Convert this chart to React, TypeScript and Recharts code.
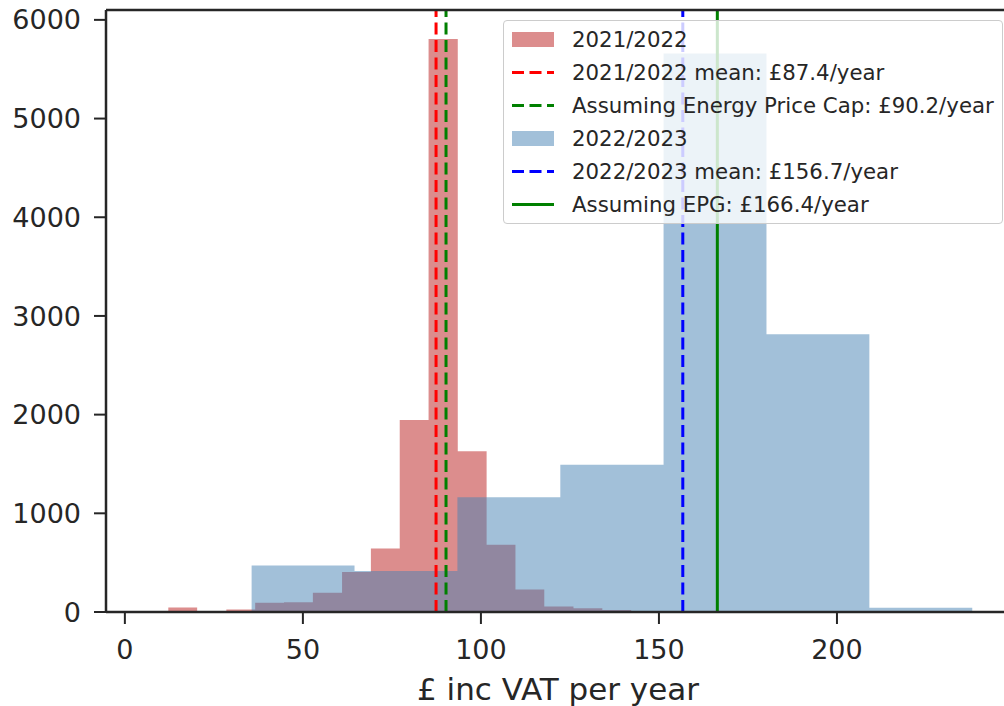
import { ComposedChart, Area, XAxis, YAxis, ReferenceLine, Legend } from 'recharts';

// histogram bin edges and counts per tariff year
const RED_EDGES = [12.2, 20.3, 28.5, 36.6, 44.7, 52.8, 61.0, 69.1, 77.2, 85.3, 93.5, 101.6, 109.7, 117.8, 126.0, 134.1, 142.2];
const RED_COUNTS = [45, 0, 25, 94, 98, 196, 405, 644, 1945, 5806, 1630, 681, 229, 57, 37, 20];
const BLUE_EDGES = [35.6, 64.5, 93.4, 122.3, 151.3, 180.2, 209.1, 238.0];
const BLUE_COUNTS = [472, 415, 1164, 1491, 5658, 2814, 42];

// mean markers (£/year)
const MEAN_2122 = 87.4;
const CAP_2122 = 90.2;
const MEAN_2223 = 156.7;
const EPG_2223 = 166.4;

const X_TICKS = [0, 50, 100, 150, 200];
const Y_TICKS = [0, 1000, 2000, 3000, 4000, 5000, 6000];
const X_DOMAIN = [-5.3, 248.6];
const Y_MAX = 6100;

const INK = '#262626';
const FONT = '"DejaVu Sans", sans-serif';
const RED_FILL = 'indianred';
const BLUE_FILL = 'steelblue';
const DASH = '12 5.5';

// value of a step histogram at x (null outside its range, 0 at the closing edge)
function stepValue(edges: number[], counts: number[], x: number) {
  const last = edges.length - 1;
  if (x < edges[0] || x > edges[last]) return null;
  if (x === edges[last]) return 0;
  let i = 0;
  while (x >= edges[i + 1]) i++;
  return counts[i];
}

const xs = Array.from(new Set([...RED_EDGES, ...BLUE_EDGES])).sort((a, b) => a - b);
const table = xs.map((x) => ({
  x,
  y2122: stepValue(RED_EDGES, RED_COUNTS, x),
  y2223: stepValue(BLUE_EDGES, BLUE_COUNTS, x),
}));

type Entry = { label: string; kind: 'patch' | 'line'; color: string; opacity?: number; dashed?: boolean };

const ENTRIES: Entry[] = [
  { label: '2021/2022', kind: 'patch', color: RED_FILL, opacity: 0.7 },
  { label: `2021/2022 mean: £${MEAN_2122}/year`, kind: 'line', color: 'red', dashed: true },
  { label: `Assuming Energy Price Cap: £${CAP_2122}/year`, kind: 'line', color: 'green', dashed: true },
  { label: '2022/2023', kind: 'patch', color: BLUE_FILL, opacity: 0.5 },
  { label: `2022/2023 mean: £${MEAN_2223}/year`, kind: 'line', color: 'blue', dashed: true },
  { label: `Assuming EPG: £${EPG_2223}/year`, kind: 'line', color: 'green' },
];

function LegendBox() {
  return (
    <div
      style={{
        boxSizing: 'border-box',
        width: 500,
        height: 204,
        padding: '2px 8px 4px 8px',
        background: 'rgba(255,255,255,0.8)',
        border: '1px solid #cccccc',
        borderRadius: 4,
        fontFamily: FONT,
        fontSize: 21.3,
        color: INK,
      }}
    >
      {ENTRIES.map((e) => (
        <div key={e.label} style={{ display: 'flex', alignItems: 'center', height: 33, whiteSpace: 'nowrap' }}>
          <svg width={42} height={15} style={{ flex: 'none', marginRight: 18 }}>
            {e.kind === 'patch' ? (
              <rect x={0} y={0} width={42} height={15} fill={e.color} fillOpacity={e.opacity} />
            ) : (
              <line x1={0} y1={7.5} x2={42} y2={7.5} stroke={e.color} strokeWidth={3} strokeDasharray={e.dashed ? DASH : undefined} />
            )}
          </svg>
          <span>{e.label}</span>
        </div>
      ))}
    </div>
  );
}

export default function App() {
  const tick = { fill: INK, fontSize: 27, fontFamily: FONT };
  return (
    <div style={{ position: 'fixed', left: 0, top: 0, width: 1004, height: 706, overflow: 'hidden', background: '#fff' }}>
      <ComposedChart width={1020} height={706} data={table} margin={{ top: 10, right: 10, bottom: 0, left: 0 }}>
        <XAxis
          dataKey="x"
          type="number"
          domain={X_DOMAIN}
          ticks={X_TICKS}
          interval={0}
          allowDataOverflow
          height={94}
          tickSize={12}
          tickMargin={16}
          tick={tick}
          axisLine={{ stroke: INK, strokeWidth: 2.5 }}
          tickLine={{ stroke: INK, strokeWidth: 2 }}
          label={{ value: '£ inc VAT per year', position: 'insideBottom', offset: 6, fill: INK, fontSize: 31, fontFamily: FONT }}
        />
        <YAxis
          type="number"
          domain={[0, Y_MAX]}
          ticks={Y_TICKS}
          interval={0}
          allowDataOverflow
          width={106}
          tickSize={12}
          tickMargin={13}
          tick={tick}
          axisLine={{ stroke: INK, strokeWidth: 2.5 }}
          tickLine={{ stroke: INK, strokeWidth: 2 }}
        />
        <Area
          type="stepAfter"
          dataKey="y2122"
          fill={RED_FILL}
          fillOpacity={0.7}
          stroke="none"
          isAnimationActive={false}
        />
        <Area
          type="stepAfter"
          dataKey="y2223"
          fill={BLUE_FILL}
          fillOpacity={0.5}
          stroke="none"
          isAnimationActive={false}
        />
        <ReferenceLine x={MEAN_2122} stroke="red" strokeWidth={3} strokeDasharray={DASH} />
        <ReferenceLine x={CAP_2122} stroke="green" strokeWidth={3} strokeDasharray={DASH} />
        <ReferenceLine x={MEAN_2223} stroke="blue" strokeWidth={3} strokeDasharray={DASH} />
        <ReferenceLine x={EPG_2223} stroke="green" strokeWidth={3} />
        {/* top spine */}
        <ReferenceLine y={Y_MAX} stroke={INK} strokeWidth={2.5} />
        <Legend
          layout="vertical"
          align="center"
          verticalAlign="middle"
          content={() => <LegendBox />}
          wrapperStyle={{ position: 'absolute', left: 503, top: 20, width: 500, height: 204 }}
        />
      </ComposedChart>
    </div>
  );
}
